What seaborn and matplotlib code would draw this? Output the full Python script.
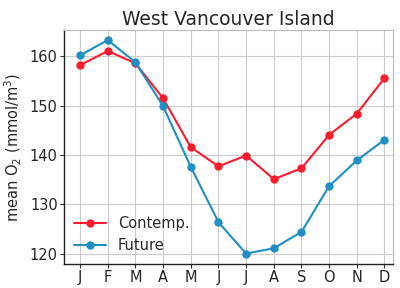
import matplotlib
matplotlib.use("Agg")
import matplotlib.pyplot as plt
import seaborn as sns
import pandas as pd

months = ["J", "F", "M", "A", "M", "J", "J", "A", "S", "O", "N", "D"]
contemp = [158.2, 161.1, 158.6, 151.5, 141.6, 137.7, 139.9, 135.1, 137.3, 144.1, 148.4, 155.6]
future = [160.2, 163.3, 158.8, 149.9, 137.6, 126.4, 120.0, 121.1, 124.4, 133.7, 138.9, 143.1]
series_names = ["Contemp.", "Future"]
colors = ["#ff1a2e", "#1f8fc4"]

df = pd.DataFrame({
    "month": list(range(12)) * 2,
    "value": contemp + future,
    "series": [series_names[0]] * 12 + [series_names[1]] * 12,
})

sns.set_style("whitegrid", {"grid.color": "#cccccc", "axes.edgecolor": "#333333"})
plt.rcParams["font.family"] = ["DejaVu Sans"]

fig, ax = plt.subplots(figsize=(4.0, 2.88), dpi=100)
sns.lineplot(data=df, x="month", y="value", hue="series", palette=colors,
             marker="o", markersize=6, markeredgewidth=0, linewidth=1.5, ax=ax)

ax.set_xticks(range(12))
ax.set_xticklabels(months)
ax.set_xlim(-0.58, 11.3)
ax.set_ylim(118, 165.3)
ax.set_yticks([120, 130, 140, 150, 160])
ax.set_xlabel("")
ax.set_ylabel("mean O$_2$ (mmol/m$^3$)", fontsize=10.5)
ax.set_title("West Vancouver Island", fontsize=13.5, pad=4)
ax.tick_params(axis="both", labelsize=10.5, length=3, width=0.8, color="#333333", pad=1.5, bottom=True, left=True)
for s in ["left", "bottom"]:
    ax.spines[s].set_color("#222222")
    ax.spines[s].set_linewidth(1.0)
for s in ["top", "right"]:
    ax.spines[s].set_color("#bbbbbb")
    ax.spines[s].set_linewidth(0.8)

ax.legend(loc="lower left", frameon=False, fontsize=10.5, handlelength=2.2, borderaxespad=0.3)

fig.subplots_adjust(left=0.16, right=0.982, bottom=0.085, top=0.895)
fig.savefig("out.png", dpi=100)
